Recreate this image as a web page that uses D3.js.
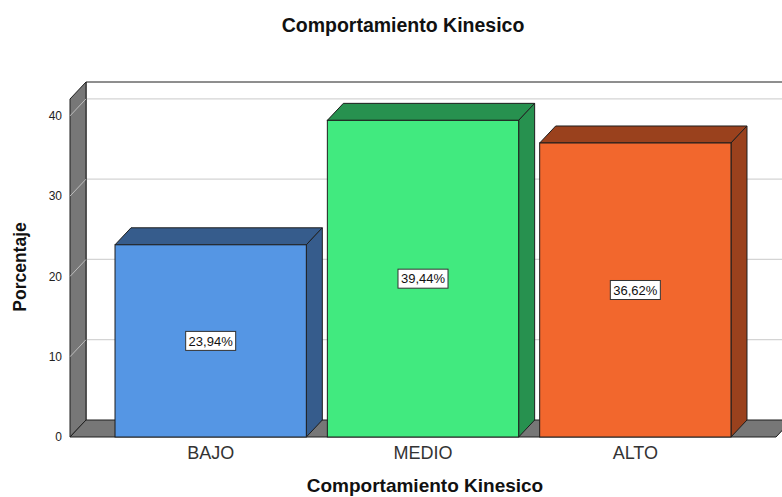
<!DOCTYPE html>
<html>
<head>
<meta charset="utf-8">
<script src="https://cdn.jsdelivr.net/npm/d3@7"></script>
<style>
  body { margin: 0; background: #fff; }
  text { font-family: "Liberation Sans", Arial, sans-serif; }
</style>
</head>
<body>
<div id="chart"></div>
<script>
const categories = ["BAJO", "MEDIO", "ALTO"];
const values = [23.94, 39.44, 36.62];
const labels = ["23,94%", "39,44%", "36,62%"];
const yTicks = [0, 10, 20, 30, 40];

const frontColors = ["#5596e4", "#41ea7f", "#f2672d"];
const sideColors = ["#365c8c", "#27914f", "#9a411d"];

const width = 782, height = 497;
const dx = 16, dy = -17;   // depth offset for the 3D look
const wallColor = "#777777";
const edge = "#1e1e1e";

const yScale = d3.scaleLinear()
    .domain([0, 42.1])
    .range([437, 99]);

const xScale = d3.scaleBand()
    .domain(categories)
    .range([70, 776])
    .paddingInner(0.099)
    .paddingOuter(0.212);

const svg = d3.select("#chart")
    .append("svg")
    .attr("width", width)
    .attr("height", height);

const y0 = yScale(0), yTop = yScale(42.1);
const xLeft = 70, xRight = 776;

// back wall gridlines
svg.append("g")
    .selectAll("line")
    .data(yTicks.filter(d => d > 0))
    .join("line")
    .attr("x1", xLeft + dx)
    .attr("x2", width)
    .attr("y1", d => yScale(d) + dy)
    .attr("y2", d => yScale(d) + dy)
    .attr("stroke", "#d4d4d4")
    .attr("stroke-width", 1.2);

// back wall top and left edge
svg.append("path")
    .attr("d", `M${width},${yTop + dy}H${xLeft + dx}V${y0 + dy}`)
    .attr("fill", "none")
    .attr("stroke", edge)
    .attr("stroke-width", 1);

// left wall
svg.append("path")
    .attr("d", `M${xLeft},${yTop}L${xLeft + dx},${yTop + dy}L${xLeft + dx},${y0 + dy}L${xLeft},${y0}Z`)
    .attr("fill", wallColor)
    .attr("stroke", edge)
    .attr("stroke-width", 1);

// diagonal gridlines on the left wall
svg.append("g")
    .selectAll("line")
    .data(yTicks.filter(d => d > 0))
    .join("line")
    .attr("x1", xLeft)
    .attr("x2", xLeft + dx)
    .attr("y1", d => yScale(d))
    .attr("y2", d => yScale(d) + dy)
    .attr("stroke", "#bdbdbd")
    .attr("stroke-width", 1);

// floor
svg.append("path")
    .attr("d", `M${xLeft},${y0}L${xLeft + dx},${y0 + dy}L${xRight + dx},${y0 + dy}L${xRight},${y0}Z`)
    .attr("fill", wallColor)
    .attr("stroke", edge)
    .attr("stroke-width", 1);

// bars
const bars = svg.append("g")
    .selectAll("g")
    .data(categories)
    .join("g");

const bw = xScale.bandwidth();

bars.append("path")
    .attr("d", (d, i) => {
        const x = xScale(d), y = yScale(values[i]);
        return `M${x},${y}L${x + dx},${y + dy}L${x + bw + dx},${y + dy}L${x + bw},${y}Z`;
    })
    .attr("fill", (d, i) => sideColors[i])
    .attr("stroke", edge)
    .attr("stroke-width", 1);

bars.append("path")
    .attr("d", (d, i) => {
        const x = xScale(d) + bw, y = yScale(values[i]);
        return `M${x},${y}L${x + dx},${y + dy}L${x + dx},${y0 + dy}L${x},${y0}Z`;
    })
    .attr("fill", (d, i) => sideColors[i])
    .attr("stroke", edge)
    .attr("stroke-width", 1);

bars.append("rect")
    .attr("x", d => xScale(d))
    .attr("y", (d, i) => yScale(values[i]))
    .attr("width", bw)
    .attr("height", (d, i) => y0 - yScale(values[i]))
    .attr("fill", (d, i) => frontColors[i])
    .attr("stroke", edge)
    .attr("stroke-width", 1);

// value labels
const lab = bars.append("g")
    .attr("transform", (d, i) =>
        `translate(${xScale(d) + bw / 2},${(yScale(values[i]) + y0) / 2})`);

lab.append("rect")
    .attr("x", -25)
    .attr("y", -9.5)
    .attr("width", 50)
    .attr("height", 19)
    .attr("fill", "#fff")
    .attr("stroke", "#333")
    .attr("stroke-width", 1);

lab.append("text")
    .attr("text-anchor", "middle")
    .attr("dy", "0.36em")
    .attr("font-size", "13px")
    .attr("fill", "#111")
    .text((d, i) => labels[i]);

// y axis tick labels
svg.append("g")
    .selectAll("text")
    .data(yTicks)
    .join("text")
    .attr("x", 62)
    .attr("y", d => yScale(d))
    .attr("dy", "0.36em")
    .attr("text-anchor", "end")
    .attr("font-size", "12px")
    .attr("fill", "#222")
    .text(d => d);

// category labels
svg.append("g")
    .selectAll("text")
    .data(categories)
    .join("text")
    .attr("x", d => xScale(d) + bw / 2)
    .attr("y", 459)
    .attr("text-anchor", "middle")
    .attr("font-size", "18px")
    .attr("fill", "#333")
    .text(d => d);

// titles
svg.append("text")
    .attr("x", 403)
    .attr("y", 32)
    .attr("text-anchor", "middle")
    .attr("font-size", "19.5px")
    .attr("font-weight", "bold")
    .attr("fill", "#111")
    .text("Comportamiento Kinesico");

svg.append("text")
    .attr("x", 425)
    .attr("y", 492)
    .attr("text-anchor", "middle")
    .attr("font-size", "19px")
    .attr("font-weight", "bold")
    .attr("fill", "#111")
    .text("Comportamiento Kinesico");

svg.append("text")
    .attr("transform", "translate(26,267) rotate(-90)")
    .attr("text-anchor", "middle")
    .attr("font-size", "17.5px")
    .attr("font-weight", "bold")
    .attr("fill", "#111")
    .text("Porcentaje");
</script>
</body>
</html>
